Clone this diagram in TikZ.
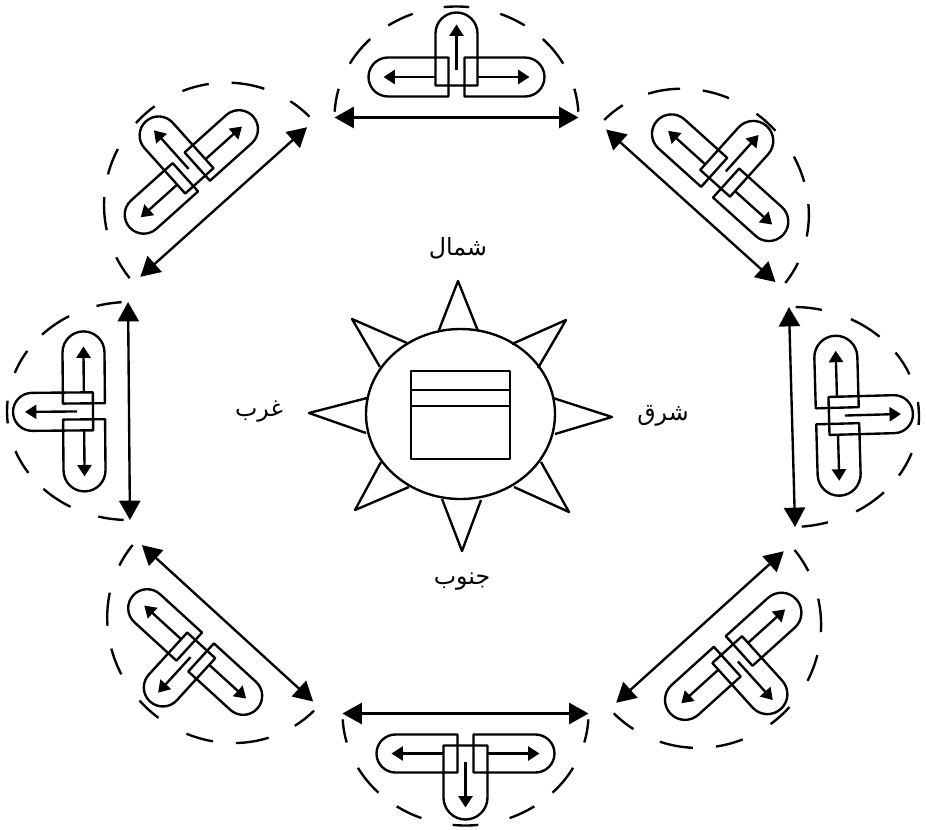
\documentclass[tikz,border=0pt]{standalone}
\usepackage{fontspec}
\usepackage{tikz}
\usetikzlibrary{arrows.meta}
\newfontfamily\arabicfont[Script=Arabic]{DejaVu Sans}
\TeXXeTstate=1

\begin{document}
\begin{tikzpicture}[
      x=0.02cm, y=-0.02cm,
      line/.style={line width=1.35pt, line join=round},
      thin line/.style={line width=1.1pt, line join=round},
      rim/.style={line width=1.35pt},
      span arr/.style={line width=1.35pt, {Triangle[length=11pt,width=12pt]}-{Triangle[length=11pt,width=12pt]}},
      flow arr/.style={line width=1.35pt, -{Triangle[length=6.5pt,width=8pt]}},
      dirlabel/.style={font=\arabicfont\fontsize{13.5}{15}\selectfont}
    ]
    \useasboundingbox (0,0) rectangle (926,829);

    % Rays
    \foreach \rayname/\tx/\ty/\ax/\ay/\bx/\by in {
        n/458/281/439/330/478/331, ne/566/320/512/344/538/368,
        e/612/417/553/398/555/434, se/569/512/541/462/514/487,
        s/462/551/481/500/442/499, sw/355/510/409/487/381/462,
        w/309/413/366/433/367/398, nw/352/319/380/367/407/343} {
      \draw[line] (\ax,\ay) -- (\tx,\ty) -- (\bx,\by);
    }

    % Centre
    \draw[line] (460.5,414) ellipse [x radius=94.5, y radius=85];
    \draw[thin line] (411,371) rectangle (510,459);
    \draw[thin line] (411,390) -- (510,390);
    \draw[thin line] (411,406) -- (510,406);

    % Labels
    \node[dirlabel] (north) at (458,248) {\beginR شمال\endR};
    \node[dirlabel] (east) at (663,416) {\beginR شرق\endR};
    \node[dirlabel] (south) at (462,582) {\beginR جنوب\endR};
    \node[dirlabel] (west) at (259,412) {\beginR غرب\endR};

    % Stations
    \foreach \unit/\mx/\my/\rot/\halfspan/\arcw/\archt/\sidebase/\sidew/\sidelen/\outw/\outbase/\outtip/\cenu in {
        a/456.5/117.5/0/122/122/111/21/39/88/21/32/105/0,
        b/690.8/205.8/-42/114/122/113/21/39/85/20/33/110/3,
        c/792/417/-88.4/110/110/127/24/43/80/19/37/121/0,
        d/700/627/-137.9/113/122/120/24/40/85/20/35/115/-5,
        e/465.5/713.5/180/123/123/112/21/38/89/22/32/106/0,
        f/227.5/623.3/137.6/116/123/117/24/38/84/19/34/110/4.5,
        g/129/411/90.5/109/109/122/24/42/80/19/36/116/0,
        h/223.7/202/41.9/112/121/118/25/38/83/19/32/112/-4} {
      \begin{scope}[shift={(\mx,\my)}, rotate=\rot, y=0.02cm]
        \coordinate (\unit-l) at (-\halfspan,0);
        \coordinate (\unit-r) at (\halfspan,0);
        \draw[span arr] (\unit-l) -- (\unit-r);
        \foreach \from/\to in {3/15, 29/45, 56/69, 84/96, 111/124, 135/151, 165/177}
          \draw[rim] ({\arcw*cos(\from)},{\archt*sin(\from)})
            arc[start angle=\from, end angle=\to, x radius=\arcw, y radius=\archt];
        \begin{scope}[xshift={\cenu*0.02cm}]
          \pgfmathsetmacro\sider{\sidew/2}
          \pgfmathsetmacro\sidemid{\sidebase+\sider}
          \draw[line] (-8,\sidebase) -- ({-\sidelen+\sider},\sidebase)
            arc[start angle=270, end angle=90, radius=\sider] -- (-8,{\sidebase+\sidew}) -- cycle;
          \draw[line] (8,\sidebase) -- ({\sidelen-\sider},\sidebase)
            arc[start angle=-90, end angle=90, radius=\sider] -- (8,{\sidebase+\sidew}) -- cycle;
          \draw[line] (-\outw,\outbase) -- (-\outw,{\outtip-\outw})
            arc[start angle=180, end angle=0, radius=\outw] -- (\outw,\outbase) -- cycle;
          \draw[flow arr] (0,{\outbase+16}) -- (0,{\outtip-12});
          \draw[flow arr] (-\outw,\sidemid) -- ({-\sidelen+15},\sidemid);
          \draw[flow arr] (\outw,\sidemid) -- ({\sidelen-15},\sidemid);
        \end{scope}
      \end{scope}
    }
  \end{tikzpicture}
\end{document}
